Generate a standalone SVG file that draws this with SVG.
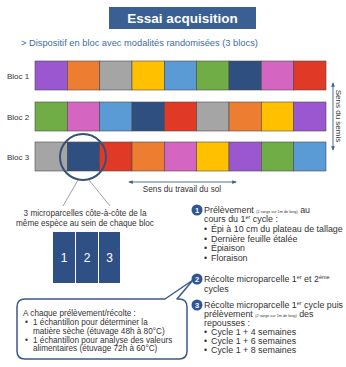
<svg xmlns="http://www.w3.org/2000/svg" width="346" height="367" viewBox="0 0 346 367">
<defs>
<style>
text{font-family:"Liberation Sans",Arial,sans-serif;fill:#333}
.cell{stroke:#4a4a4a;stroke-width:0.6}
.lbl{font-size:8px}
.lst{font-size:8.9px}
.sm{font-size:3.8px}
.sup{font-size:5.5px}
.num{fill:#2F5597}
.numt{fill:#fff;font-size:7.5px;font-weight:bold;text-anchor:middle}
.co{font-size:8.2px}
.conn{stroke:#8a8a8a;stroke-width:0.8;fill:none}
.arr{stroke:#3F5F8F;stroke-width:0.9;fill:none}
</style>
<marker id="ah" viewBox="0 0 6 6" refX="5" refY="3" markerWidth="5" markerHeight="5" orient="auto-start-reverse">
<path d="M0,0.5 L6,3 L0,5.5 z" fill="#3F5F8F"/>
</marker>
</defs>
<rect width="346" height="367" fill="#fff"/>

<g id="title">
<rect x="109" y="7" width="147" height="22" fill="#3A5F93"/>
<text x="182.5" y="23" style="fill:#fff;font-size:13.5px;font-weight:bold;text-anchor:middle">Essai acquisition</text>
</g>
<g id="subtitle">
<text x="21" y="46" style="fill:#3E6CA5;font-size:9.3px">&gt; Dispositif en bloc avec modalités randomisées (3 blocs)</text>
</g>

<g id="bloc1">
<text class="lbl" x="7" y="78.5">Bloc 1</text>
<rect class="cell" x="35" y="61" width="32.33" height="29" fill="#9B57CF"/>
<rect class="cell" x="67.33" y="61" width="32.33" height="29" fill="#ED7D31"/>
<rect class="cell" x="99.67" y="61" width="32.33" height="29" fill="#A5A5A5"/>
<rect class="cell" x="132" y="61" width="32.33" height="29" fill="#FFC000"/>
<rect class="cell" x="164.33" y="61" width="32.33" height="29" fill="#5B9BD5"/>
<rect class="cell" x="196.67" y="61" width="32.33" height="29" fill="#70AD47"/>
<rect class="cell" x="229" y="61" width="32.33" height="29" fill="#2F4F80"/>
<rect class="cell" x="261.33" y="61" width="32.33" height="29" fill="#D466C2"/>
<rect class="cell" x="293.67" y="61" width="32.33" height="29" fill="#E03A26"/>
</g>
<g id="bloc2">
<text class="lbl" x="7" y="119.5">Bloc 2</text>
<rect class="cell" x="35" y="102" width="32.33" height="29" fill="#70AD47"/>
<rect class="cell" x="67.33" y="102" width="32.33" height="29" fill="#D466C2"/>
<rect class="cell" x="99.67" y="102" width="32.33" height="29" fill="#5B9BD5"/>
<rect class="cell" x="132" y="102" width="32.33" height="29" fill="#2F4F80"/>
<rect class="cell" x="164.33" y="102" width="32.33" height="29" fill="#E03A26"/>
<rect class="cell" x="196.67" y="102" width="32.33" height="29" fill="#A5A5A5"/>
<rect class="cell" x="229" y="102" width="32.33" height="29" fill="#ED7D31"/>
<rect class="cell" x="261.33" y="102" width="32.33" height="29" fill="#FFC000"/>
<rect class="cell" x="293.67" y="102" width="32.33" height="29" fill="#9B57CF"/>
</g>
<g id="bloc3">
<text class="lbl" x="7" y="159.5">Bloc 3</text>
<rect class="cell" x="35" y="142" width="32.33" height="29" fill="#A5A5A5"/>
<rect class="cell" x="67.33" y="142" width="32.33" height="29" fill="#2F4F80"/>
<rect class="cell" x="99.67" y="142" width="32.33" height="29" fill="#E03A26"/>
<rect class="cell" x="132" y="142" width="32.33" height="29" fill="#ED7D31"/>
<rect class="cell" x="164.33" y="142" width="32.33" height="29" fill="#D466C2"/>
<rect class="cell" x="196.67" y="142" width="32.33" height="29" fill="#FFC000"/>
<rect class="cell" x="229" y="142" width="32.33" height="29" fill="#9B57CF"/>
<rect class="cell" x="261.33" y="142" width="32.33" height="29" fill="#70AD47"/>
<rect class="cell" x="293.67" y="142" width="32.33" height="29" fill="#5B9BD5"/>
</g>

<g id="highlight">
<circle cx="83" cy="157" r="23" fill="none" stroke="#34507E" stroke-width="2"/>
</g>

<g id="connectors">
<line class="conn" x1="78" y1="180" x2="63" y2="206"/>
<line class="conn" x1="89" y1="180" x2="110" y2="206"/>
<line class="arr" x1="129" y1="182" x2="236" y2="182" marker-start="url(#ah)" marker-end="url(#ah)"/>
<line class="arr" x1="333" y1="83" x2="333" y2="150" marker-start="url(#ah)" marker-end="url(#ah)"/>
</g>

<g id="axis-labels">
<text x="182" y="192" style="font-size:8.2px;text-anchor:middle">Sens du travail du sol</text>
<text transform="translate(336,116) rotate(90)" style="font-size:8px;text-anchor:middle">Sens du semis</text>
</g>

<g id="microparcelles">
<text x="85" y="216" style="font-size:8.2px;text-anchor:middle">3 microparcelles côte-à-côte de la</text>
<text x="85" y="225.5" style="font-size:8.2px;text-anchor:middle">même espèce au sein de chaque bloc</text>
<rect x="53" y="232" width="22" height="51" fill="#2F5085"/>
<rect x="76" y="232" width="22" height="51" fill="#2F5085"/>
<rect x="99" y="232" width="21" height="51" fill="#2F5085"/>
<text x="64" y="262" style="fill:#fff;font-size:12px;text-anchor:middle">1</text>
<text x="87" y="262" style="fill:#fff;font-size:12px;text-anchor:middle">2</text>
<text x="109.5" y="262" style="fill:#fff;font-size:12px;text-anchor:middle">3</text>
</g>

<g id="callout">
<path d="M25,299 L165,299 L193,280 L177,299 L179,299 Q187,299 187,307 L187,351 Q187,359 179,359 L25,359 Q17,359 17,351 L17,307 Q17,299 25,299 Z" fill="#fff" stroke="#3A5A8C" stroke-width="1.5" stroke-linejoin="round"/>
<text class="co" x="23" y="316">A chaque prélèvement/récolte :</text>
<text class="co" x="25" y="325">•</text>
<text class="co" x="33" y="325">1 échantillon pour déterminer la</text>
<text class="co" x="33" y="333.5">matière sèche (étuvage 48h à 80°C)</text>
<text class="co" x="25" y="342.5">•</text>
<text class="co" x="33" y="342.5">1 échantillon pour analyse des valeurs</text>
<text class="co" x="33" y="351">alimentaires (étuvage 72h à 60°C)</text>
</g>

<g id="step1">
<circle class="num" cx="197" cy="210" r="5.5"/>
<text class="numt" x="197" y="212.7">1</text>
<text class="lst" x="204" y="213">Prélèvement <tspan class="sm">(2 rangs sur 1m de long)</tspan> au</text>
<text class="lst" x="204" y="222">cours du 1<tspan class="sup" dy="-2.8">er</tspan><tspan dy="2.8"> cycle :</tspan></text>
<text class="lst" x="204" y="232">•</text>
<text class="lst" x="211" y="232">Épi à 10 cm du plateau de tallage</text>
<text class="lst" x="204" y="241.5">•</text>
<text class="lst" x="211" y="241.5">Dernière feuille étalée</text>
<text class="lst" x="204" y="251">•</text>
<text class="lst" x="211" y="251">Épiaison</text>
<text class="lst" x="204" y="260.5">•</text>
<text class="lst" x="211" y="260.5">Floraison</text>
</g>
<g id="step2">
<circle class="num" cx="197" cy="279" r="5.5"/>
<text class="numt" x="197" y="281.7">2</text>
<text class="lst" x="204" y="282">Récolte microparcelle 1<tspan class="sup" dy="-2.8">er</tspan><tspan dy="2.8"> et 2</tspan><tspan class="sup" dy="-2.8">ème</tspan></text>
<text class="lst" x="204" y="292">cycles</text>
</g>
<g id="step3">
<circle class="num" cx="197" cy="305" r="5.5"/>
<text class="numt" x="197" y="307.7">3</text>
<text class="lst" x="204" y="308">Récolte microparcelle 1<tspan class="sup" dy="-2.8">er</tspan><tspan dy="2.8"> cycle puis</tspan></text>
<text class="lst" x="204" y="317">prélèvement <tspan class="sm">(2 rangs sur 1m de long)</tspan> des</text>
<text class="lst" x="204" y="326">repousses :</text>
<text class="lst" x="204" y="335">•</text>
<text class="lst" x="211" y="335">Cycle 1 + 4 semaines</text>
<text class="lst" x="204" y="344">•</text>
<text class="lst" x="211" y="344">Cycle 1 + 6 semaines</text>
<text class="lst" x="204" y="353">•</text>
<text class="lst" x="211" y="353">Cycle 1 + 8 semaines</text>
</g>
</svg>
